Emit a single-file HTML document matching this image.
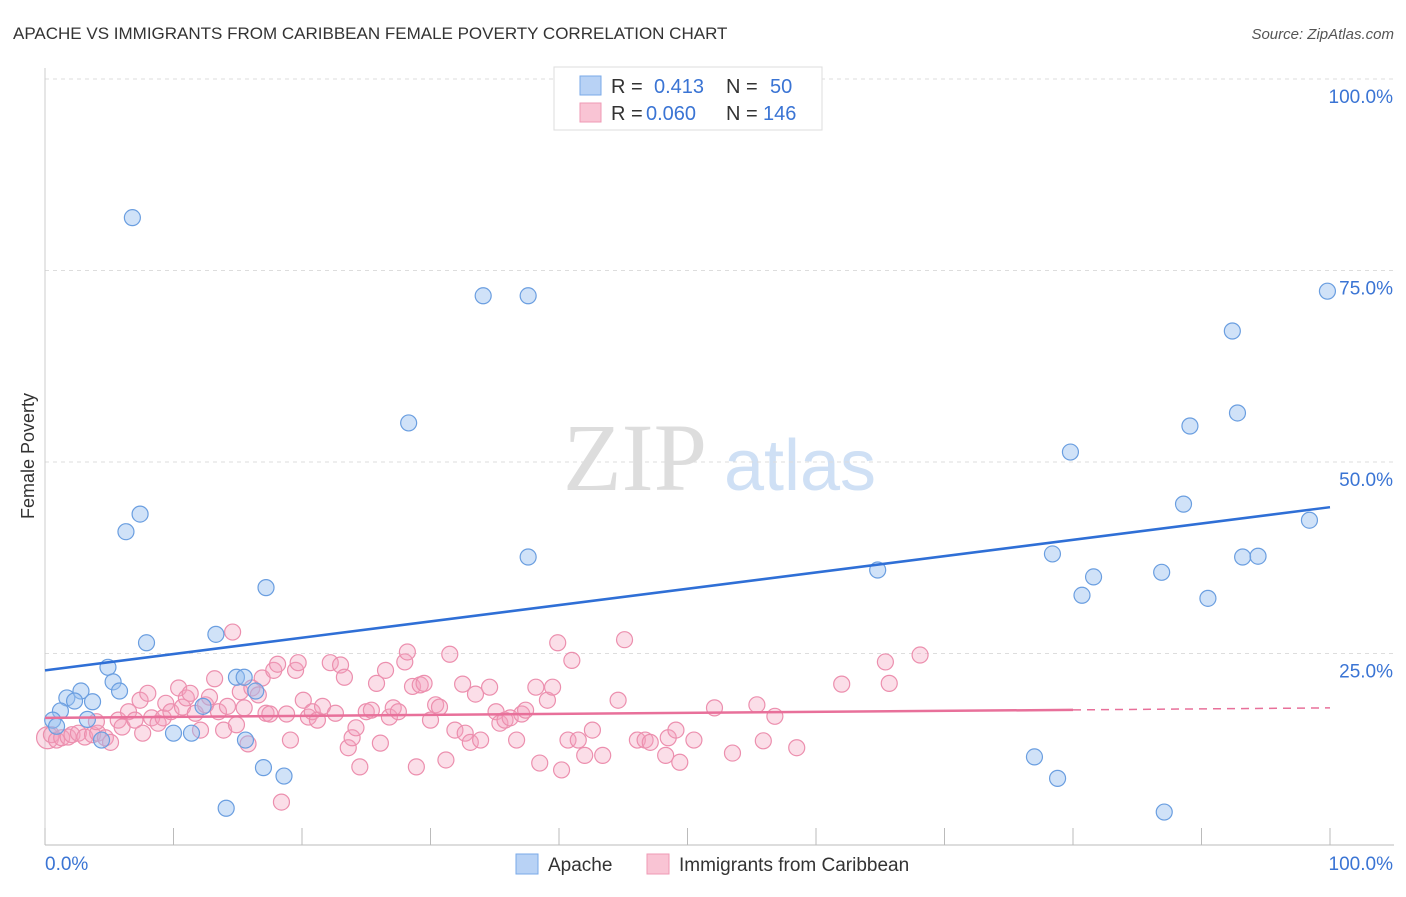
<!DOCTYPE html>
<html><head><meta charset="utf-8"><style>
body{margin:0;background:#fff;font-family:"Liberation Sans",sans-serif}
</style></head><body>
<svg id="chart" width="1406" height="892" xmlns="http://www.w3.org/2000/svg">
<text x="13" y="39" font-size="17" fill="#333">APACHE VS IMMIGRANTS FROM CARIBBEAN FEMALE POVERTY CORRELATION CHART</text>
<text x="1394" y="39" font-size="15" fill="#555" font-style="italic" text-anchor="end">Source: ZipAtlas.com</text>
<text x="34" y="456" font-size="18" fill="#333" text-anchor="middle" transform="rotate(-90 34 456)">Female Poverty</text>
<g>
<text x="635" y="490" font-size="96" fill="#ddd" font-family="Liberation Serif,serif" text-anchor="middle">ZIP</text>
<text x="800" y="490" font-size="72" fill="#cfe0f5" text-anchor="middle">atlas</text>
</g>
<g id="grid"></g>
<g id="axes"></g>
<g id="pts"></g>
<g id="trends"></g>
<g>
<rect x="554" y="67" width="268" height="63" fill="#fff" stroke="#ddd"/>
<rect x="580" y="76" width="21" height="19" fill="#b8d2f5" stroke="#7aaae8"/>
<rect x="580" y="103" width="21" height="19" fill="#f9c4d4" stroke="#ef9ab5"/>
<text x="611" y="93" font-size="20" fill="#333">R =</text><text x="654" y="93" font-size="20" fill="#3a74d4">0.413</text>
<text x="726" y="93" font-size="20" fill="#333">N =</text><text x="770" y="93" font-size="20" fill="#3a74d4">50</text>
<text x="611" y="120" font-size="20" fill="#333">R =</text><text x="646" y="120" font-size="20" fill="#3a74d4">0.060</text>
<text x="726" y="120" font-size="20" fill="#333">N =</text><text x="763" y="120" font-size="20" fill="#3a74d4">146</text>
</g>
<g>
<rect x="516" y="854" width="22" height="20" fill="#b8d2f5" stroke="#7aaae8"/>
<text x="548" y="871" font-size="19" fill="#333">Apache</text>
<rect x="647" y="854" width="22" height="20" fill="#f9c4d4" stroke="#ef9ab5"/>
<text x="679" y="871" font-size="19" fill="#333">Immigrants from Caribbean</text>
</g>
</svg>
<script>
const blueX=[6.8,34.1,37.6,28.3,99.8,92.4,92.8,89.1,79.8,88.6,98.4,93.2,94.4,78.4,81.6,80.7,86.9,90.5,64.8,37.6,7.4,6.3,17.2,7.9,13.3,4.9,5.3,5.8,2.8,1.7,2.3,3.7,1.2,0.6,0.9,3.3,14.9,15.5,16.4,12.3,10.0,11.4,15.6,4.4,17.0,18.6,14.1,77.0,78.8,87.1];
const blueY=[81.9,71.7,71.7,55.1,72.3,67.1,56.4,54.7,51.3,44.5,42.4,37.6,37.7,38.0,35.0,32.6,35.6,32.2,35.9,37.6,43.2,40.9,33.6,26.4,27.5,23.2,21.3,20.1,20.1,19.2,18.8,18.7,17.5,16.3,15.5,16.4,21.9,21.9,20.1,18.1,14.6,14.6,13.7,13.7,10.1,9.0,4.8,11.5,8.7,4.3];
const pinkX=[0.2,0.5,0.9,1.3,1.8,2.1,2.6,3.1,3.7,4.1,4.7,5.1,4.0,5.7,6.0,6.5,7.0,7.4,7.6,8.0,8.3,8.8,9.2,9.4,9.8,10.4,10.7,11.0,11.3,11.7,12.1,12.5,12.8,13.2,13.5,13.9,14.2,14.6,14.9,15.2,15.5,15.8,16.1,16.6,16.9,17.2,17.5,17.8,18.1,18.4,18.8,19.1,19.5,19.7,20.1,20.5,20.8,21.2,21.6,22.2,22.6,23.0,23.3,23.6,23.9,24.2,24.5,25.0,25.4,25.8,26.1,26.5,26.8,27.1,27.5,28.0,28.2,28.6,28.9,29.2,29.5,30.0,30.4,30.7,31.2,31.5,31.9,32.5,32.7,33.1,33.5,33.9,34.6,35.1,35.4,35.8,36.2,36.7,37.1,37.4,38.2,38.5,39.1,39.5,39.9,40.2,40.7,41.0,41.5,42.0,42.6,43.4,44.6,45.1,46.1,46.7,47.1,48.3,48.5,49.1,49.4,50.5,52.1,53.5,55.4,55.9,56.8,58.5,62.0,65.4,65.7,68.1];
const pinkY=[14.0,14.4,13.7,14.0,14.1,14.4,14.6,14.1,14.4,14.6,14.0,13.4,16.1,16.3,15.4,17.4,16.3,18.9,14.6,19.8,16.6,15.9,16.6,18.5,17.4,20.5,18.0,19.2,19.8,17.2,15.0,18.3,19.3,21.7,17.4,15.0,18.1,27.8,15.7,20.0,17.9,13.2,20.5,19.6,21.8,17.2,17.1,22.8,23.6,5.6,17.1,13.7,22.8,23.8,18.9,16.7,17.4,16.3,18.1,23.8,17.2,23.5,21.9,12.7,14.0,15.3,10.2,17.4,17.6,21.1,13.3,22.8,16.7,17.9,17.4,23.9,25.2,20.7,10.2,20.9,21.1,16.3,18.3,18.0,11.1,24.9,15.0,21.0,14.6,13.4,19.7,13.7,20.6,17.4,15.9,16.3,16.6,13.7,17.1,17.6,20.6,10.7,18.9,20.6,26.4,9.8,13.7,24.1,13.7,11.7,15.0,11.7,18.9,26.8,13.7,13.7,13.4,11.7,14.0,15.0,10.8,13.7,17.9,12.0,18.3,13.6,16.8,12.7,21.0,23.9,21.1,24.8];
const blueTrend=[22.8,44.1];
const pinkTrend=[16.6,17.9];
const yTicks=[25,50,75,100];
const yTickLabels=["25.0%","50.0%","75.0%","100.0%"];
const xTicks=[0,10,20,30,40,50,60,70,80,90,100];
const NS="http://www.w3.org/2000/svg";
const sx=v=>45+v*12.85, sy=v=>845-v*7.66;
function mk(tag,attrs,parent){const e=document.createElementNS(NS,tag);for(const k in attrs)e.setAttribute(k,attrs[k]);document.getElementById(parent).appendChild(e);return e;}
yTicks.forEach((t,i)=>{
 const g=mk('line',{x1:45,x2:1394,y1:sy(t),y2:sy(t),stroke:'#ddd','stroke-dasharray':'4,4'},'grid');
 
 
 const l=mk('text',{x:1393,y:sy(t)+24,'font-size':19,fill:'#3a74d4','text-anchor':'end'},'axes');
 l.textContent=yTickLabels[i];
 
 
});
mk('line',{x1:45,x2:1394,y1:sy(100),y2:sy(100),stroke:'#ddd','stroke-dasharray':'4,4'},'grid');
const xa=mk('line',{x1:45,x2:1394,y1:845,y2:845,stroke:'#bbb'},'axes');


const ya=mk('line',{x1:45,x2:45,y1:68,y2:845,stroke:'#ccc'},'axes');


xTicks.forEach(t=>{const k=mk('line',{x1:sx(t),x2:sx(t),y1:828,y2:845,stroke:'#bbb'},'axes');
 
 });
const x0=mk('text',{x:45,y:870,'font-size':19,fill:'#3a74d4'},'axes');x0.textContent='0.0%';


const x1=mk('text',{x:1393,y:870,'font-size':19,fill:'#3a74d4','text-anchor':'end'},'axes');x1.textContent='100.0%';


pinkX.forEach((v,i)=>{const c=mk('circle',{cx:sx(v),cy:sy(pinkY[i]),r:i===0?11:8,fill:'rgba(244,160,188,0.35)',stroke:'#ec8fae','stroke-width':1.2},'pts');
 
 });
blueX.forEach((v,i)=>{const c=mk('circle',{cx:sx(v),cy:sy(blueY[i]),r:8,fill:'rgba(150,190,240,0.45)',stroke:'#6a9ee0','stroke-width':1.2},'pts');
 
 });
const bt=mk('line',{x1:sx(0),y1:sy(blueTrend[0]),x2:sx(100),y2:sy(blueTrend[1]),stroke:'#2f6fd6','stroke-width':2.5},'trends');


const pm=pinkTrend[0]+(pinkTrend[1]-pinkTrend[0])*0.8;
const pt=mk('line',{x1:sx(0),y1:sy(pinkTrend[0]),x2:sx(80),y2:sy(pm),stroke:'#e8709a','stroke-width':2.5},'trends');


const pd=mk('line',{x1:sx(80),y1:sy(pm),x2:sx(100),y2:sy(pinkTrend[1]),stroke:'#e8709a','stroke-width':1.5,'stroke-dasharray':'8,6'},'trends');


</script>
</body></html>
